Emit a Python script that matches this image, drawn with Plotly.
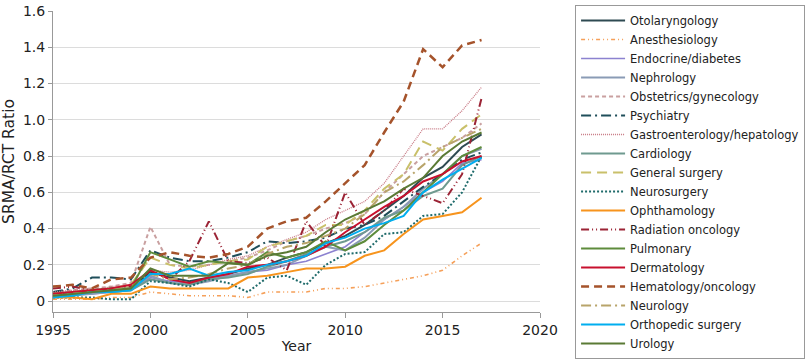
import plotly.graph_objects as go

years = list(range(1995, 2018))

otolaryngology = [0.04, 0.05, 0.06, 0.06, 0.07, 0.16, 0.13, 0.11, 0.13, 0.15, 0.18, 0.20, 0.24, 0.27, 0.32, 0.36, 0.42, 0.50, 0.58, 0.68, 0.74, 0.85, 0.92]
anesthesiology = [0.01, 0.01, 0.01, 0.02, 0.02, 0.05, 0.04, 0.03, 0.03, 0.03, 0.02, 0.05, 0.05, 0.05, 0.07, 0.07, 0.08, 0.10, 0.12, 0.14, 0.17, 0.25, 0.32]
endocrine = [0.03, 0.04, 0.04, 0.05, 0.06, 0.13, 0.11, 0.10, 0.12, 0.14, 0.16, 0.17, 0.20, 0.22, 0.26, 0.30, 0.38, 0.45, 0.52, 0.60, 0.66, 0.76, 0.78]
nephrology = [0.03, 0.03, 0.04, 0.05, 0.06, 0.14, 0.10, 0.09, 0.11, 0.14, 0.16, 0.18, 0.20, 0.25, 0.30, 0.28, 0.35, 0.45, 0.52, 0.62, 0.70, 0.80, 0.84]
obstetrics = [0.05, 0.06, 0.07, 0.08, 0.10, 0.41, 0.20, 0.19, 0.20, 0.22, 0.24, 0.28, 0.33, 0.36, 0.40, 0.43, 0.48, 0.60, 0.70, 0.80, 0.85, 0.90, 0.98]
psychiatry = [0.05, 0.07, 0.13, 0.13, 0.12, 0.28, 0.24, 0.22, 0.22, 0.24, 0.27, 0.33, 0.32, 0.33, 0.35, 0.40, 0.42, 0.47, 0.55, 0.63, 0.70, 0.78, 0.82]
gastro = [0.05, 0.06, 0.06, 0.08, 0.09, 0.17, 0.16, 0.17, 0.20, 0.23, 0.25, 0.30, 0.34, 0.38, 0.45, 0.50, 0.55, 0.65, 0.80, 0.95, 0.95, 1.05, 1.18]
cardiology = [0.03, 0.04, 0.05, 0.05, 0.06, 0.12, 0.10, 0.09, 0.12, 0.13, 0.15, 0.19, 0.22, 0.26, 0.30, 0.33, 0.38, 0.46, 0.50, 0.58, 0.62, 0.75, 0.80]
general_surgery = [0.04, 0.05, 0.06, 0.07, 0.09, 0.24, 0.20, 0.18, 0.20, 0.22, 0.23, 0.30, 0.33, 0.36, 0.42, 0.42, 0.50, 0.62, 0.70, 0.88, 0.83, 0.95, 1.03]
neurosurgery = [0.02, 0.02, 0.02, 0.01, 0.01, 0.11, 0.10, 0.08, 0.12, 0.10, 0.05, 0.13, 0.14, 0.09, 0.20, 0.26, 0.27, 0.37, 0.38, 0.47, 0.48, 0.60, 0.80]
ophthalmology = [0.02, 0.02, 0.01, 0.04, 0.04, 0.08, 0.07, 0.07, 0.07, 0.07, 0.13, 0.14, 0.16, 0.18, 0.18, 0.19, 0.25, 0.28, 0.37, 0.45, 0.47, 0.49, 0.57]
radiation_oncology = [0.07, 0.08, 0.06, 0.07, 0.08, 0.17, 0.12, 0.22, 0.44, 0.22, 0.21, 0.24, 0.17, 0.44, 0.30, 0.60, 0.42, 0.50, 0.62, 0.58, 0.54, 0.70, 1.12]
pulmonary = [0.03, 0.03, 0.06, 0.07, 0.07, 0.27, 0.23, 0.19, 0.22, 0.21, 0.20, 0.27, 0.24, 0.27, 0.33, 0.28, 0.33, 0.42, 0.50, 0.60, 0.70, 0.80, 0.85]
dermatology = [0.04, 0.05, 0.06, 0.07, 0.09, 0.17, 0.12, 0.10, 0.13, 0.15, 0.19, 0.20, 0.22, 0.25, 0.30, 0.38, 0.45, 0.52, 0.58, 0.66, 0.70, 0.77, 0.80]
hematology_oncology = [0.08, 0.09, 0.07, 0.12, 0.13, 0.24, 0.27, 0.25, 0.24, 0.26, 0.30, 0.40, 0.44, 0.46, 0.55, 0.65, 0.75, 0.93, 1.10, 1.39, 1.29, 1.41, 1.44]
neurology = [0.03, 0.04, 0.05, 0.06, 0.08, 0.15, 0.12, 0.13, 0.15, 0.18, 0.20, 0.26, 0.30, 0.32, 0.36, 0.40, 0.48, 0.60, 0.66, 0.75, 0.85, 0.90, 0.95]
orthopedic = [0.02, 0.03, 0.05, 0.05, 0.06, 0.15, 0.15, 0.18, 0.14, 0.16, 0.17, 0.20, 0.22, 0.25, 0.32, 0.35, 0.40, 0.43, 0.47, 0.60, 0.67, 0.73, 0.79]
urology = [0.03, 0.04, 0.05, 0.06, 0.07, 0.18, 0.14, 0.14, 0.14, 0.21, 0.20, 0.25, 0.27, 0.30, 0.38, 0.45, 0.50, 0.55, 0.62, 0.68, 0.80, 0.88, 0.93]

y_ticks = [0, 0.2, 0.4, 0.6, 0.8, 1.0, 1.2, 1.4, 1.6]
y_tick_labels = ["0", "0.2", "0.4", "0.6", "0.8", "1.0", "1.2", "1.4", "1.6"]
x_ticks = [1995, 2000, 2005, 2010, 2015, 2020]

series = [
    ("Otolaryngology", otolaryngology, "#2E4A52", "solid", 2),
    ("Anesthesiology", anesthesiology, "#F5A05A", "4px,3px,1px,3px,1px,3px", 1.6),
    ("Endocrine/diabetes", endocrine, "#8C82D0", "solid", 1.6),
    ("Nephrology", nephrology, "#8A9BB5", "solid", 2),
    ("Obstetrics/gynecology", obstetrics, "#C9A0A0", "4px,3px", 2),
    ("Psychiatry", psychiatry, "#1F4E5A", "10px,4px,2px,4px", 2),
    ("Gastroenterology/hepatology", gastro, "#C87A85", "1px,1px", 1.3),
    ("Cardiology", cardiology, "#6F9A8F", "solid", 2),
    ("General surgery", general_surgery, "#C9C06A", "10px,6px", 2),
    ("Neurosurgery", neurosurgery, "#1F6B6B", "2px,2px", 2),
    ("Ophthamology", ophthalmology, "#F7941D", "solid", 2),
    ("Radiation oncology", radiation_oncology, "#9B2335", "8px,3px,1px,3px,1px,3px", 2),
    ("Pulmonary", pulmonary, "#5E8C3C", "solid", 2),
    ("Dermatology", dermatology, "#C8102E", "solid", 2),
    ("Hematology/oncology", hematology_oncology, "#A5532B", "8px,5px", 2.5),
    ("Neurology", neurology, "#B8A46A", "10px,4px,2px,4px", 2),
    ("Orthopedic surgery", orthopedic, "#00AEEF", "solid", 2),
    ("Urology", urology, "#5A7A35", "solid", 2),
]

fig = go.Figure()
for name, vals, color, dash, w in series:
    fig.add_trace(go.Scatter(x=years, y=vals, mode="lines", name=name,
                             line=dict(color=color, dash=dash, width=w)))

font_family = "'DejaVu Sans', sans-serif"
fig.update_layout(
    width=810, height=361,
    margin=dict(l=53, r=270, t=11, b=49, autoexpand=False),
    paper_bgcolor="white", plot_bgcolor="white",
    font=dict(family=font_family, size=13, color="#222"),
    showlegend=True,
    legend=dict(x=1.072, xanchor="left", y=1.02, yanchor="top",
                bordercolor="#999", borderwidth=1, bgcolor="white",
                font=dict(size=11.5, color="#222"), itemwidth=44,
                tracegroupgap=0, traceorder="normal", maxheight=356),
    xaxis=dict(range=[1995, 2020], tickvals=x_ticks, showgrid=False,
               showline=True, linecolor="#999", linewidth=1,
               ticks="outside", ticklen=5, tickcolor="#999",
               title=dict(text="Year", font=dict(size=14), standoff=4),
               tickfont=dict(size=14), zeroline=False),
    yaxis=dict(range=[-0.06, 1.6], tickvals=y_ticks, ticktext=y_tick_labels,
               showgrid=True, gridcolor="#dcdcdc", gridwidth=1,
               showline=True, linecolor="#999", linewidth=1,
               ticks="outside", ticklen=4, tickcolor="#999",
               title=dict(text="SRMA/RCT Ratio", font=dict(size=15.5), standoff=4),
               tickfont=dict(size=14), zeroline=False),
)

fig.write_html("out.html", config={"displayModeBar": False},
               post_script="document.body.style.margin='0';")
